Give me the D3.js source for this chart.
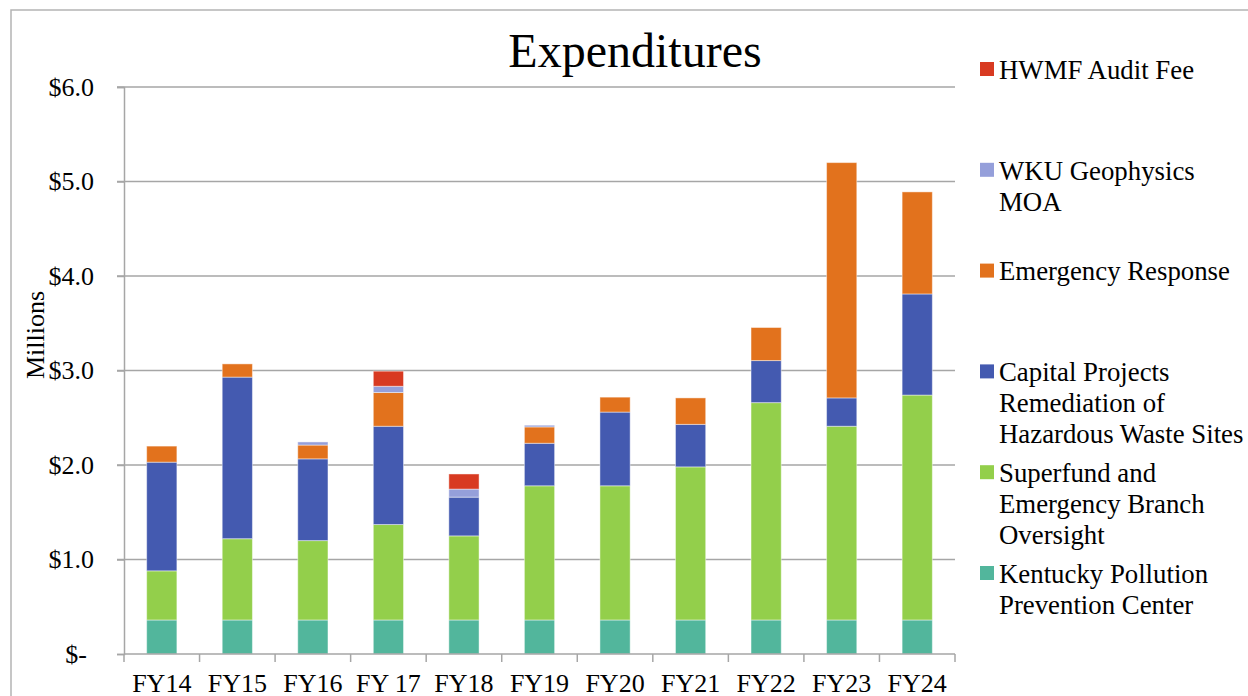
<!DOCTYPE html>
<html>
<head>
<meta charset="utf-8">
<script src="https://cdn.jsdelivr.net/npm/d3@7"></script>
<style>
  body { margin: 0; background: #fff; }
  text { font-family: "Liberation Serif", "Times New Roman", serif; fill: #000; }
</style>
</head>
<body>
<div class="chart"></div>
<script>
const years = ["FY14", "FY15", "FY16", "FY 17", "FY18", "FY19", "FY20", "FY21", "FY22", "FY23", "FY24"];

// series, bottom of the stack first (values in $ millions)
const kppc      = [0.36, 0.36, 0.36, 0.36, 0.36, 0.36, 0.36, 0.36, 0.36, 0.36, 0.36];
const superfund = [0.52, 0.86, 0.84, 1.01, 0.89, 1.42, 1.42, 1.62, 2.30, 2.05, 2.38];
const capital   = [1.15, 1.71, 0.865, 1.04, 0.41, 0.45, 0.78, 0.45, 0.445, 0.30, 1.07];
const emergency = [0.17, 0.14, 0.146, 0.357, 0, 0.173, 0.158, 0.28, 0.35, 2.49, 1.08];
const wku       = [0, 0, 0.033, 0.066, 0.085, 0.018, 0, 0, 0, 0, 0];
const hwmf      = [0, 0, 0, 0.16, 0.16, 0, 0, 0, 0, 0, 0];

const yTicks = [0, 1, 2, 3, 4, 5, 6];

const series = [
  { key: "kppc", name: ["Kentucky Pollution", "Prevention Center"], color: "#52b69c", values: kppc },
  { key: "superfund", name: ["Superfund and", "Emergency Branch", "Oversight"], color: "#93cf4b", values: superfund },
  { key: "capital", name: ["Capital Projects", "Remediation of", "Hazardous Waste Sites"], color: "#445ab0", values: capital },
  { key: "emergency", name: ["Emergency Response"], color: "#e2721d", values: emergency },
  { key: "wku", name: ["WKU Geophysics", "MOA"], color: "#959fda", values: wku },
  { key: "hwmf", name: ["HWMF Audit Fee"], color: "#d83a21", values: hwmf }
];

const W = 1248, H = 696;
const plot = { left: 124, right: 955, top: 87, bottom: 654 };

const svg = d3.select(".chart").append("svg")
    .attr("width", W)
    .attr("height", H);

// outer chart border
svg.append("rect")
    .attr("x", 11).attr("y", 10)
    .attr("width", W).attr("height", H)
    .attr("fill", "none")
    .attr("stroke", "#b4b4b4")
    .attr("stroke-width", 1.5);

const x = d3.scaleBand()
    .domain(years)
    .range([plot.left, plot.right])
    .paddingInner(0.6)
    .paddingOuter(0.3);

const y = d3.scaleLinear()
    .domain([0, 6])
    .range([plot.bottom, plot.top]);

// gridlines
svg.append("g")
    .selectAll("line")
    .data(yTicks.filter(d => d > 0))
    .enter()
    .append("line")
    .attr("x1", plot.left - 7)
    .attr("x2", plot.right)
    .attr("y1", d => y(d))
    .attr("y2", d => y(d))
    .attr("stroke", "#a6a6a6")
    .attr("stroke-width", 1.5);

// stacked bars
const rows = years.map((yr, i) => {
  const r = { year: yr };
  series.forEach(s => r[s.key] = s.values[i]);
  return r;
});
const stacked = d3.stack().keys(series.map(s => s.key))(rows);

svg.append("g")
    .selectAll("g")
    .data(stacked)
    .enter()
    .append("g")
    .attr("fill", (d, i) => series[i].color)
    .selectAll("rect")
    .data(d => d.filter(p => p[1] - p[0] > 0))
    .enter()
    .append("rect")
    .attr("x", d => x(d.data.year))
    .attr("width", x.bandwidth())
    .attr("y", d => y(d[1]))
    .attr("height", d => y(d[0]) - y(d[1]))
    .attr("stroke", "#ffffff")
    .attr("stroke-opacity", 0.45)
    .attr("stroke-width", 1);

// y axis
const yAxis = svg.append("g")
    .attr("transform", `translate(${plot.left},0)`)
    .call(d3.axisLeft(y)
        .tickValues(yTicks)
        .tickSize(7)
        .tickPadding(23)
        .tickFormat(d => d === 0 ? "$-" : "$" + d.toFixed(1)));
yAxis.select(".domain").attr("stroke", "#a6a6a6").attr("stroke-width", 1.5);
yAxis.selectAll(".tick line").attr("stroke", "#a6a6a6").attr("stroke-width", 1.5);
yAxis.selectAll(".tick text")
    .attr("font-size", 26)
    .attr("font-family", "Liberation Serif, Times New Roman, serif")
    .attr("dx", d => d === 0 ? -7 : 0);

// x axis with ticks between categories
const xAxis = svg.append("g")
    .attr("transform", `translate(0,${plot.bottom})`);
xAxis.append("line")
    .attr("x1", plot.left).attr("x2", plot.right)
    .attr("stroke", "#a6a6a6").attr("stroke-width", 1.5);
const step = (plot.right - plot.left) / years.length;
xAxis.selectAll(".sep")
    .data(d3.range(years.length + 1))
    .enter()
    .append("line")
    .attr("x1", i => plot.left + i * step)
    .attr("x2", i => plot.left + i * step)
    .attr("y1", 0).attr("y2", 8)
    .attr("stroke", "#a6a6a6").attr("stroke-width", 1.5);
xAxis.selectAll("text")
    .data(years)
    .enter()
    .append("text")
    .attr("x", d => x(d) + x.bandwidth() / 2)
    .attr("y", 38)
    .attr("text-anchor", "middle")
    .attr("font-size", 26)
    .text(d => d);

// axis title
svg.append("text")
    .attr("transform", "translate(44,335) rotate(-90)")
    .attr("text-anchor", "middle")
    .attr("font-size", 26)
    .text("Millions");

// chart title
svg.append("text")
    .attr("x", 635)
    .attr("y", 67)
    .attr("text-anchor", "middle")
    .attr("font-size", 48)
    .text("Expenditures");

// legend (top entry = top of stack)
const legend = svg.append("g");
const legendItems = series.slice().reverse();
const entry = legend.selectAll("g")
    .data(legendItems)
    .enter()
    .append("g")
    .attr("transform", (d, i) => `translate(980,${70 + i * 100.8})`);
entry.append("rect")
    .attr("x", 0).attr("y", -8)
    .attr("width", 14).attr("height", 14)
    .attr("fill", d => d.color);
entry.append("text")
    .attr("x", 19)
    .attr("font-size", 26.8)
    .selectAll("tspan")
    .data(d => d.name)
    .enter()
    .append("tspan")
    .attr("x", 19)
    .attr("y", (d, i) => i * 31)
    .attr("dy", "0.33em")
    .text(d => d);
</script>
</body>
</html>
